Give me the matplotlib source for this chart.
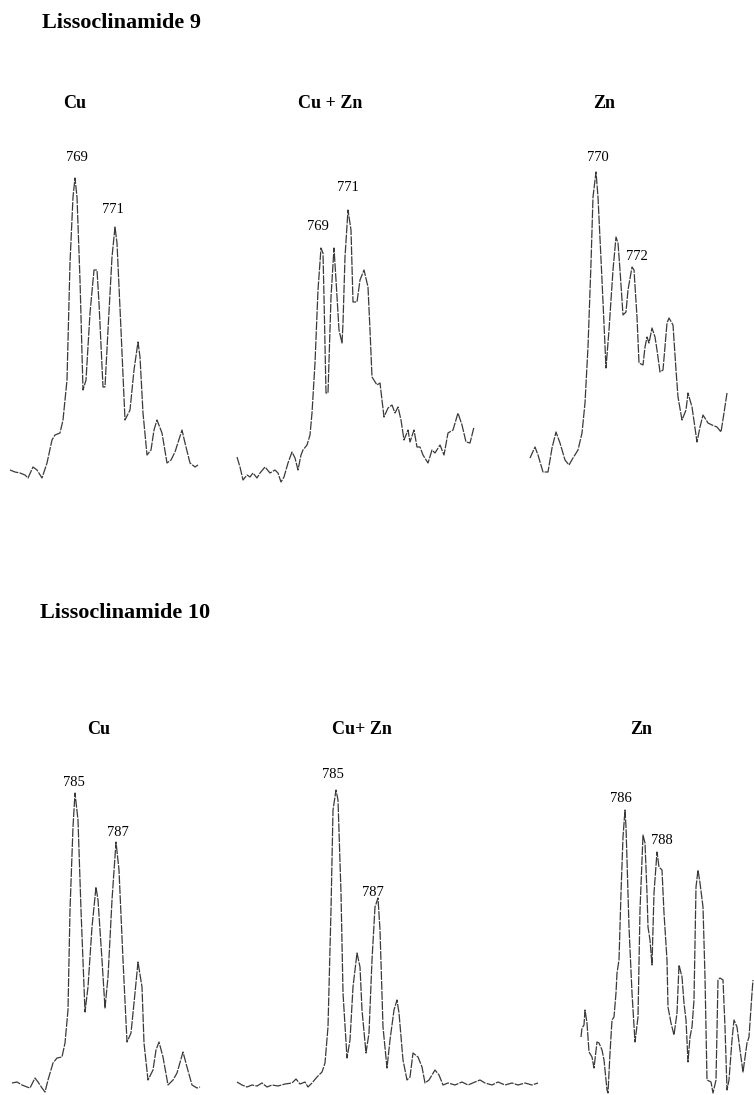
import numpy as np
import matplotlib
matplotlib.use("Agg")
import matplotlib.pyplot as plt

# Traces: x = horizontal offset inside the panel,
# y = signal height above the panel floor (same units, pixels of the scan).

# Lissoclinamide 9, Cu
l9_cu_x = [10, 15, 20, 25, 28, 33, 37, 42, 47, 52, 55, 60, 63, 67, 70, 73, 75, 77, 80, 83,
           86, 90, 94, 97, 99, 103, 105, 108, 112, 115, 117, 121, 125, 130, 134, 138, 140,
           143, 147, 151, 154, 157, 162, 167, 171, 175, 182, 185, 190, 195, 198]
l9_cu_y = [15, 13, 12, 10, 7, 18, 15, 7, 22, 45, 50, 52, 65, 105, 222, 288, 307, 288, 205, 95,
           105, 172, 215, 215, 182, 98, 98, 155, 228, 258, 242, 155, 65, 75, 115, 143, 128,
           72, 30, 35, 55, 65, 52, 22, 25, 33, 55, 42, 22, 18, 20]

# Lissoclinamide 9, Cu + Zn
l9_cuzn_x = [12, 15, 18, 22, 25, 28, 32, 35, 40, 45, 50, 53, 56, 59, 63, 67, 70, 73, 76, 78,
             82, 85, 87, 90, 93, 96, 98, 99, 101, 103, 106, 109, 111, 114, 117, 118, 120, 123,
             126, 128, 132, 135, 139, 143, 145, 147, 152, 155, 159, 163, 167, 170, 173, 176,
             179, 183, 185, 189, 192, 195, 198, 203, 207, 210, 215, 219, 223, 228, 233, 237,
             241, 245, 249]
l9_cuzn_y = [28, 18, 5, 10, 8, 12, 7, 12, 18, 12, 15, 12, 3, 8, 22, 33, 27, 15, 30, 35,
             40, 50, 72, 122, 195, 237, 232, 188, 92, 92, 188, 237, 205, 155, 142, 162, 228, 275,
             255, 183, 183, 205, 215, 198, 155, 108, 100, 102, 68, 77, 80, 72, 78, 65,
             45, 55, 43, 55, 38, 38, 30, 22, 35, 32, 40, 30, 52, 55, 72, 60,
             43, 42, 58]

# Lissoclinamide 9, Zn
l9_zn_x = [10, 15, 18, 23, 28, 32, 36, 40, 45, 49, 53, 58, 62, 65, 68, 71, 73, 76, 78, 82,
           86, 89, 93, 96, 98, 100, 103, 106, 108, 112, 114, 117, 119, 123, 125, 127, 129,
           132, 135, 137, 140, 143, 147, 149, 153, 156, 158, 162, 166, 168, 172, 177, 180,
           183, 188, 192, 197, 201, 204, 207]
l9_zn_y = [27, 38, 30, 13, 13, 37, 53, 42, 25, 20, 27, 35, 52, 82, 138, 222, 288, 313, 288, 205,
           117, 155, 215, 248, 242, 215, 170, 173, 195, 218, 215, 168, 122, 120, 138, 148, 142,
           157, 148, 135, 113, 115, 162, 167, 160, 115, 88, 65, 75, 92, 78, 43, 58,
           70, 62, 60, 58, 53, 72, 92]

# Lissoclinamide 10, Cu
l10_cu_x = [12, 17, 22, 27, 30, 35, 38, 42, 45, 48, 53, 57, 62, 65, 68, 70, 73, 75, 78, 81,
            85, 88, 92, 96, 98, 102, 105, 108, 112, 116, 119, 123, 127, 131, 135, 138, 142,
            144, 148, 153, 156, 159, 163, 168, 173, 177, 183, 187, 192, 197, 200]
l10_cu_y = [12, 13, 10, 8, 7, 17, 13, 7, 3, 15, 32, 37, 38, 52, 85, 185, 268, 302, 275, 185,
            83, 108, 168, 208, 195, 135, 87, 118, 195, 253, 225, 135, 53, 62, 102, 133, 108,
            52, 15, 25, 45, 53, 38, 10, 15, 22, 43, 28, 10, 7, 8]

# Lissoclinamide 10, Cu + Zn
l10_cuzn_x = [12, 17, 22, 27, 32, 37, 42, 47, 53, 60, 67, 71, 75, 80, 83, 87, 92, 97, 100, 103,
              106, 108, 111, 113, 116, 118, 122, 125, 128, 132, 135, 137, 141, 144, 147, 150,
              153, 155, 158, 162, 165, 169, 172, 174, 178, 182, 185, 188, 193, 197, 200, 204,
              210, 214, 218, 223, 230, 237, 243, 250, 255, 260, 267, 273, 280, 287, 293, 300,
              307, 313]
l10_cuzn_y = [13, 10, 8, 10, 9, 12, 8, 10, 9, 11, 12, 16, 11, 13, 8, 12, 18, 23, 32, 68,
              185, 285, 305, 295, 202, 102, 37, 55, 108, 142, 128, 85, 42, 62, 135, 188,
              197, 165, 68, 27, 55, 85, 95, 82, 35, 15, 18, 42, 38, 28, 12, 15,
              25, 20, 10, 12, 10, 13, 10, 13, 15, 12, 10, 13, 10, 12, 10, 12,
              10, 12]

# Lissoclinamide 10, Zn
l10_zn_x = [21, 22, 24, 25, 27, 29, 32, 34, 37, 39, 42, 44, 47, 48, 50, 52, 54, 56, 57, 59,
            61, 63, 65, 66, 67, 69, 72, 75, 78, 80, 82, 83, 85, 87, 88, 90, 92, 94, 97, 99,
            102, 104, 107, 108, 111, 114, 117, 119, 122, 124, 126, 128, 130, 132, 134, 136,
            138, 140, 143, 145, 147, 151, 153, 156, 158, 160, 163, 165, 167, 169, 172, 174,
            177, 180, 183, 187, 189, 192, 193]
l10_zn_y = [58, 67, 70, 85, 72, 43, 38, 27, 53, 52, 45, 35, 5, 2, 42, 75, 78, 102, 122, 135,
            202, 258, 285, 268, 235, 168, 102, 53, 78, 185, 235, 260, 252, 202, 168, 155, 130,
            202, 243, 228, 225, 182, 135, 88, 72, 60, 82, 130, 118, 92, 75, 33, 58, 68, 95,
            208, 225, 212, 188, 118, 15, 13, 2, 15, 115, 117, 115, 68, 5, 15, 55, 75,
            68, 45, 23, 52, 58, 102, 115]

# peak labels (m/z) and where they sit in each panel
l9_cu_labels = ["769", "771"]
l9_cu_lab_x = [77, 113]
l9_cu_lab_y = [327, 275]
l9_cuzn_labels = ["769", "771"]
l9_cuzn_lab_x = [93, 123]
l9_cuzn_lab_y = [258, 297]
l9_zn_labels = ["770", "772"]
l9_zn_lab_x = [78, 117]
l9_zn_lab_y = [327, 228]
l10_cu_labels = ["785", "787"]
l10_cu_lab_x = [74, 118]
l10_cu_lab_y = [312, 262]
l10_cuzn_labels = ["785", "787"]
l10_cuzn_lab_x = [108, 148]
l10_cuzn_lab_y = [320, 203]
l10_zn_labels = ["786", "788"]
l10_zn_lab_x = [61, 102]
l10_zn_lab_y = [296, 255]

W, H = 754, 1095
fig = plt.figure(figsize=(W / 100, H / 100), dpi=100)
fig.patch.set_facecolor("white")

serif = ["Liberation Serif", "DejaVu Serif"]


def px_text(x, y, s, size, weight="normal"):
    fig.text(x / W, 1 - y / H, s, fontsize=size, fontweight=weight,
             family=serif, ha="left", va="center", color="black")


# panels: (left px, top px, width px, height px)
panels = [
    ((0, 150, 210, 335), l9_cu_x, l9_cu_y, l9_cu_labels, l9_cu_lab_x, l9_cu_lab_y),
    ((225, 150, 260, 335), l9_cuzn_x, l9_cuzn_y, l9_cuzn_labels, l9_cuzn_lab_x, l9_cuzn_lab_y),
    ((520, 150, 234, 335), l9_zn_x, l9_zn_y, l9_zn_labels, l9_zn_lab_x, l9_zn_lab_y),
    ((0, 760, 210, 335), l10_cu_x, l10_cu_y, l10_cu_labels, l10_cu_lab_x, l10_cu_lab_y),
    ((225, 760, 320, 335), l10_cuzn_x, l10_cuzn_y, l10_cuzn_labels, l10_cuzn_lab_x, l10_cuzn_lab_y),
    ((560, 760, 194, 335), l10_zn_x, l10_zn_y, l10_zn_labels, l10_zn_lab_x, l10_zn_lab_y),
]

for (l, t, w, h), xs, ys, labs, lx, ly in panels:
    ax = fig.add_axes([l / W, 1 - (t + h) / H, w / W, h / H])
    ax.plot(xs, ys, color="#3a3a3a", linewidth=0.9, dashes=(7, 1), clip_on=False)
    for s, x, y in zip(labs, lx, ly):
        ax.text(x, y, s, fontsize=10.5, family=serif, ha="center", va="center")
    ax.set_xlim(0, w)
    ax.set_ylim(0, h)
    ax.axis("off")

# headings
px_text(42, 23, "Lissoclinamide 9", 16, "bold")
px_text(40, 613, "Lissoclinamide 10", 16, "bold")

px_text(63, 103, "Cu", 13, "bold")
px_text(298, 103, "Cu + Zn", 13, "bold")
px_text(593, 103, "Zn", 13, "bold")

px_text(87, 729, "Cu", 13, "bold")
px_text(332, 729, "Cu+ Zn", 13, "bold")
px_text(630, 729, "Zn", 13, "bold")

plt.savefig("out.png", dpi=100, facecolor="white")
plt.close()
